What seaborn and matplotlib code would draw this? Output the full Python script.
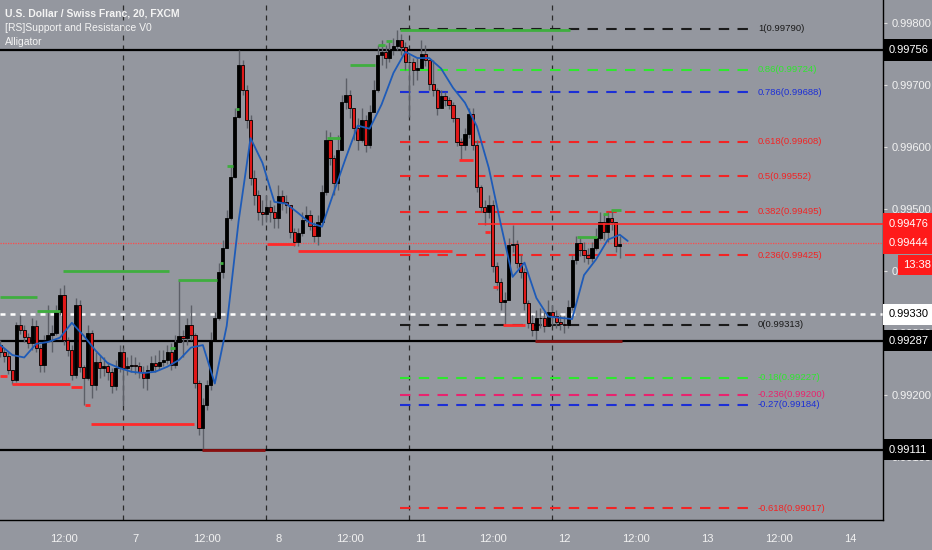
import numpy as np
import matplotlib
matplotlib.use("Agg")
import matplotlib.pyplot as plt
import matplotlib.transforms as mtransforms
import seaborn as sns

# ---- candles (40 min bars, index 0 = first bar on the left) ----
first_open = 0.99280
close = [0.99269, 0.99263, 0.99240, 0.99224, 0.99313, 0.99305, 0.99293, 0.99284, 0.99310, 0.99276,
         0.99248, 0.99289, 0.99297, 0.99300, 0.99334, 0.99361, 0.99289, 0.99272, 0.99232, 0.99345,
         0.99245, 0.99227, 0.99300, 0.99216, 0.99253, 0.99243, 0.99247, 0.99237, 0.99214, 0.99243,
         0.99269, 0.99243, 0.99247, 0.99248, 0.99247, 0.99237, 0.99227, 0.99240, 0.99251, 0.99247,
         0.99253, 0.99256, 0.99269, 0.99248, 0.99285, 0.99295, 0.99292, 0.99313, 0.99297, 0.99219,
         0.99147, 0.99184, 0.99216, 0.99289, 0.99324, 0.99398, 0.99437, 0.99485, 0.99551, 0.99648,
         0.99732, 0.99692, 0.99643, 0.99550, 0.99522, 0.99495, 0.99492, 0.99503, 0.99495, 0.99485,
         0.99521, 0.99510, 0.99506, 0.99463, 0.99447, 0.99460, 0.99482, 0.99490, 0.99472, 0.99456,
         0.99479, 0.99527, 0.99611, 0.99582, 0.99542, 0.99595, 0.99672, 0.99684, 0.99663, 0.99630,
         0.99611, 0.99643, 0.99603, 0.99656, 0.99692, 0.99748, 0.99753, 0.99743, 0.99756, 0.99763,
         0.99772, 0.99760, 0.99737, 0.99737, 0.99724, 0.99727, 0.99750, 0.99740, 0.99701, 0.99692,
         0.99663, 0.99682, 0.99676, 0.99668, 0.99647, 0.99608, 0.99603, 0.99621, 0.99653, 0.99603,
         0.99535, 0.99503, 0.99495, 0.99506, 0.99408, 0.99382, 0.99350, 0.99353, 0.99442, 0.99443,
         0.99413, 0.99398, 0.99348, 0.99316, 0.99305, 0.99324, 0.99324, 0.99311, 0.99334, 0.99327,
         0.99318, 0.99314, 0.99313, 0.99342, 0.99418, 0.99445, 0.99434, 0.99426, 0.99421, 0.99437,
         0.99453, 0.99479, 0.99463, 0.99485, 0.99479, 0.99440, 0.99443]
high = [0.99289, 0.99276, 0.99269, 0.99237, 0.99318, 0.99329, 0.99313, 0.99300, 0.99324, 0.99321,
        0.99280, 0.99297, 0.99345, 0.99313, 0.99345, 0.99372, 0.99377, 0.99293, 0.99280, 0.99356,
        0.99353, 0.99248, 0.99313, 0.99305, 0.99269, 0.99264, 0.99260, 0.99253, 0.99243, 0.99256,
        0.99280, 0.99276, 0.99260, 0.99264, 0.99260, 0.99253, 0.99247, 0.99248, 0.99263, 0.99264,
        0.99272, 0.99272, 0.99280, 0.99284, 0.99297, 0.99385, 0.99305, 0.99324, 0.99345, 0.99300,
        0.99224, 0.99195, 0.99224, 0.99301, 0.99334, 0.99413, 0.99450, 0.99498, 0.99571, 0.99663,
        0.99756, 0.99740, 0.99700, 0.99651, 0.99563, 0.99530, 0.99514, 0.99522, 0.99514, 0.99506,
        0.99539, 0.99530, 0.99522, 0.99506, 0.99469, 0.99469, 0.99495, 0.99505, 0.99498, 0.99479,
        0.99490, 0.99539, 0.99627, 0.99624, 0.99587, 0.99619, 0.99684, 0.99711, 0.99692, 0.99660,
        0.99647, 0.99663, 0.99651, 0.99668, 0.99708, 0.99764, 0.99772, 0.99764, 0.99769, 0.99776,
        0.99789, 0.99782, 0.99769, 0.99748, 0.99743, 0.99743, 0.99772, 0.99764, 0.99740, 0.99740,
        0.99695, 0.99692, 0.99689, 0.99680, 0.99672, 0.99647, 0.99614, 0.99630, 0.99663, 0.99663,
        0.99611, 0.99539, 0.99514, 0.99522, 0.99514, 0.99414, 0.99389, 0.99366, 0.99453, 0.99474,
        0.99450, 0.99426, 0.99405, 0.99353, 0.99329, 0.99337, 0.99340, 0.99334, 0.99353, 0.99345,
        0.99337, 0.99329, 0.99327, 0.99353, 0.99426, 0.99456, 0.99455, 0.99447, 0.99437, 0.99447,
        0.99469, 0.99495, 0.99492, 0.99495, 0.99498, 0.99474, 0.99456]
low = [0.99260, 0.99253, 0.99234, 0.99218, 0.99221, 0.99298, 0.99285, 0.99276, 0.99272, 0.99269,
       0.99237, 0.99237, 0.99289, 0.99269, 0.99297, 0.99329, 0.99280, 0.99263, 0.99224, 0.99227,
       0.99237, 0.99184, 0.99224, 0.99195, 0.99208, 0.99227, 0.99230, 0.99224, 0.99203, 0.99208,
       0.99237, 0.99184, 0.99232, 0.99237, 0.99234, 0.99227, 0.99211, 0.99208, 0.99237, 0.99237,
       0.99240, 0.99247, 0.99250, 0.99240, 0.99243, 0.99289, 0.99260, 0.99280, 0.99289, 0.99211,
       0.99135, 0.99111, 0.99176, 0.99208, 0.99297, 0.99321, 0.99389, 0.99453, 0.99482, 0.99550,
       0.99647, 0.99684, 0.99630, 0.99539, 0.99506, 0.99482, 0.99474, 0.99479, 0.99479, 0.99469,
       0.99469, 0.99498, 0.99493, 0.99453, 0.99440, 0.99440, 0.99456, 0.99479, 0.99466, 0.99447,
       0.99442, 0.99474, 0.99522, 0.99571, 0.99522, 0.99530, 0.99595, 0.99660, 0.99647, 0.99611,
       0.99595, 0.99608, 0.99592, 0.99598, 0.99668, 0.99689, 0.99732, 0.99727, 0.99737, 0.99748,
       0.99756, 0.99748, 0.99724, 0.99648, 0.99700, 0.99708, 0.99727, 0.99730, 0.99692, 0.99682,
       0.99651, 0.99663, 0.99666, 0.99660, 0.99640, 0.99601, 0.99579, 0.99595, 0.99614, 0.99595,
       0.99527, 0.99495, 0.99474, 0.99485, 0.99398, 0.99369, 0.99337, 0.99313, 0.99353, 0.99430,
       0.99405, 0.99389, 0.99337, 0.99308, 0.99295, 0.99287, 0.99308, 0.99301, 0.99313, 0.99313,
       0.99308, 0.99305, 0.99300, 0.99308, 0.99337, 0.99410, 0.99424, 0.99414, 0.99411, 0.99414,
       0.99434, 0.99450, 0.99450, 0.99447, 0.99466, 0.99430, 0.99421]

# ---- alligator line ----
jaw_bar = list(range(0, 157, 3)) + [158]
jaw = [0.99280, 0.99264, 0.99260, 0.99282, 0.99285, 0.99292, 0.99316, 0.99295, 0.99271, 0.99251,
       0.99243, 0.99237, 0.99235, 0.99237, 0.99245, 0.99256, 0.99276, 0.99280, 0.99218, 0.99311,
       0.99480, 0.99614, 0.99574, 0.99511, 0.99508, 0.99493, 0.99477, 0.99471, 0.99527, 0.99582,
       0.99634, 0.99629, 0.99668, 0.99719, 0.99753, 0.99743, 0.99743, 0.99726, 0.99695, 0.99671,
       0.99633, 0.99566, 0.99476, 0.99390, 0.99413, 0.99356, 0.99326, 0.99324, 0.99322, 0.99393,
       0.99418, 0.99450, 0.99458, 0.99448]

# ---- support / resistance segments (bar index from, to, price) ----
res_start = [0, 9.2, 15.8, 42.7, 44.7, 55.3, 57.0, 59.3, 82.3, 88.0, 95.1, 97.1, 100.6, 145.2, 151.8, 153.8]
res_end = [9.2, 15.0, 42.5, 44.0, 54.6, 56.1, 58.6, 60.1, 85.5, 94.4, 96.9, 98.6, 143.5, 150.3, 153.0, 156.3]
res_price = [0.99358, 0.99335, 0.99400, 0.99276, 0.99385, 0.99413, 0.99569, 0.99661, 0.99614, 0.99732,
             0.99764, 0.99771, 0.99789, 0.99455, 0.99492, 0.99498]
sup_start = [0, 2.9, 17.8, 21.3, 22.8, 50.8, 67.2, 75.0, 115.5, 120.3, 122.0, 124.1, 126.6, 134.7]
sup_end = [1.7, 17.5, 20.6, 22.6, 48.8, 66.6, 74.2, 113.8, 119.0, 223.0, 123.3, 125.3, 132.1, 156.6]
sup_price = [0.99230, 0.99218, 0.99213, 0.99184, 0.99153, 0.99110, 0.99443, 0.99432, 0.99579, 0.99476,
             0.99463, 0.99374, 0.99313, 0.99287]

# ---- fibonacci levels ----
fib_name = ['1', '0.86', '0.786', '0.618', '0.5', '0.382', '0.236', '0', '-0.18', '-0.236', '-0.27', '-0.618']
fib_price = [0.99790, 0.99724, 0.99688, 0.99608, 0.99552, 0.99495, 0.99425, 0.99313, 0.99227, 0.99200,
             0.99184, 0.99017]
fib_color = ['#1a1a1a', '#2ee82e', '#1c2fd6', '#f22424', '#f22424', '#f22424', '#f22424',
             '#1a1a1a', '#2ee82e', '#e8246e', '#1c2fd6', '#f22424']

black_levels = [0.99756, 0.99287, 0.99111]
white_level = 0.99330
last_price = 0.99444
countdown = '13:38'

tick_bar = [16, 34, 52, 70, 88, 106, 124, 142, 160, 178, 196, 214]
tick_text = ['12:00', '7', '12:00', '8', '12:00', '11', '12:00', '12', '12:00', '13', '12:00', '14']
session_bar = [31, 67, 103, 139]
price_ticks = [0.99100, 0.99200, 0.99300, 0.99400, 0.99500, 0.99600, 0.99700, 0.99800]

BG = '#94979f'
NARROW = ['Liberation Sans Narrow', 'Liberation Sans', 'DejaVu Sans']
sns.set_style('white')
plt.rcParams['font.family'] = ['Liberation Sans', 'DejaVu Sans']

fig = plt.figure(figsize=(9.32, 5.5), dpi=100, facecolor=BG)
ax = fig.add_axes([0, 30 / 550, 883 / 932, 520 / 550])
ax.set_facecolor(BG)
ax.set_xlim(-0.1, 222.3)
ax.set_ylim(0.989979, 0.998366)

x = np.arange(len(close))
c = np.array(close)
o = np.array([first_open] + close[:-1])
h = np.maximum(np.array(high), np.maximum(o, c))
l = np.minimum(np.array(low), np.minimum(o, c))

# session separators
for b in session_bar:
    ax.axvline(b, color='#2b2b2b', lw=0.9, ls=(0, (4, 4)), zorder=1)

# horizontal levels
for p in black_levels:
    ax.axhline(p, color='black', lw=1.6, zorder=2)
ax.axhline(white_level, color='white', lw=1.8, ls=(0, (2, 2)), zorder=2)
ax.axhline(last_price, color='#ff4a4a', lw=0.9, ls=(0, (1, 1)), zorder=2)

# fib levels
for n, p, col in zip(fib_name, fib_price, fib_color):
    ax.hlines(p, 100.6, 188.8, color=col, lw=1.5, ls=(0, (5, 4)), zorder=2)
    ax.text(190.8, p, f'{n}({p:.5f})', color=col, fontsize=6.8, family=NARROW,
            va='center', ha='left', zorder=3)

# candles
ax.vlines(x, l, h, color='#5c5f67', lw=1, zorder=3)
up = c >= o
ax.bar(x[up], (c - o)[up], bottom=o[up], width=0.8, color='black', edgecolor='black', lw=0.6, zorder=4)
ax.bar(x[~up], (c - o)[~up], bottom=o[~up], width=0.8, color='#e01818', edgecolor='black', lw=0.6, zorder=4)

# support / resistance
for s, e, p in zip(res_start, res_end, res_price):
    ax.hlines(p, s, e, color='#3fae3f', lw=2, zorder=5)
for s, e, p in zip(sup_start, sup_end, sup_price):
    on_black = min(abs(p - b) for b in black_levels) < 0.00003
    if s > 120 and e > 200:
        ax.hlines(p, s, e, color='#ff2a2a', lw=1.2, zorder=5)
    else:
        ax.hlines(p, s, e, color='#8a1010' if on_black else '#ff2a2a', lw=2, zorder=5)

# alligator
sns.lineplot(x=jaw_bar, y=jaw, ax=ax, color='#1e5bb8', lw=1.3, zorder=6)

# axes
for side in ['top', 'left']:
    ax.spines[side].set_visible(False)
for side in ['right', 'bottom']:
    ax.spines[side].set_color('black')
    ax.spines[side].set_linewidth(1)
ax.yaxis.tick_right()
ax.set_yticks(price_ticks)
ax.set_yticklabels([f'{p:.5f}' for p in price_ticks])
ax.set_xticks(tick_bar)
ax.set_xticklabels(tick_text)
ax.tick_params(axis='y', colors='#f2f2f2', labelsize=8, length=3, pad=3)
ax.tick_params(axis='y', which='both', color='#dddddd')
ax.tick_params(axis='x', colors='#f2f2f2', labelsize=8, length=3, pad=7)
ax.tick_params(axis='x', color='#222222')
ax.set_xlabel('')
ax.set_ylabel('')

# price labels on the right scale
tr = mtransforms.blended_transform_factory(ax.transAxes, ax.transData)
boxes = [(black_levels[0], 'black', 'white'), (black_levels[1], 'black', 'white'),
         (black_levels[2], 'black', 'white'), (white_level, 'white', 'black'),
         (0.99476, '#ff1a1a', 'white'), (last_price, '#ff1a1a', 'white')]
for p, fc, tc in boxes:
    ax.text(1.0 + 6 / 883, p, f'{p:.5f}', transform=tr, color=tc, fontsize=8, va='center', ha='left',
            clip_on=False, zorder=20,
            bbox=dict(boxstyle='square,pad=0.5', fc=fc, ec='none'))
fig.text(0.999, 1 - 265 / 550, countdown, color='white', fontsize=8, ha='right', va='center',
         bbox=dict(boxstyle='square,pad=0.45', fc='#ff1a1a', ec='none'), zorder=20)

# header
hdr = dict(color='#f4f4f4', fontsize=7.5, va='center', family=NARROW)
fig.text(5 / 932, 1 - 13 / 550, 'U.S. Dollar / Swiss Franc, 20, FXCM', fontweight='bold', **hdr)
fig.text(5 / 932, 1 - 28 / 550, '[RS]Support and Resistance V0', **hdr)
fig.text(5 / 932, 1 - 42 / 550, 'Alligator', **hdr)

fig.savefig('out.png', dpi=100, facecolor=BG)
